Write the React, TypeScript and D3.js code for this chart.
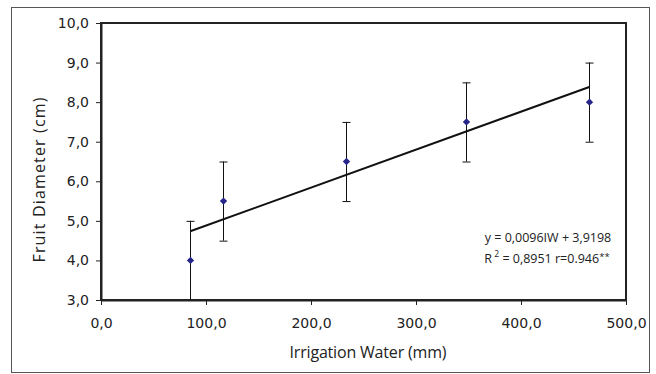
import React, { useEffect, useRef } from 'react';
import * as d3 from 'd3';

// irrigation water (mm) and mean fruit diameter (cm), error = ±1
const waterMm = [85, 116, 233, 348, 465];
const diameterCm = [4.0, 5.5, 6.5, 7.5, 8.0];
const errorCm = [1.0, 1.0, 1.0, 1.0, 1.0];
const xTicks = [0, 100, 200, 300, 400, 500];
const yTicks = [3, 4, 5, 6, 7, 8, 9, 10];
const slope = 0.0096;
const intercept = 3.9198;

const W = 656, H = 374;
const margin = { left: 101, right: 30, top: 23, bottom: 74 };

const fmt = (v: number) => v.toFixed(1).replace('.', ',');

const App = () => {
  const ref = useRef<SVGSVGElement | null>(null);

  useEffect(() => {
    const svg = d3.select(ref.current);
    svg.selectAll('*').remove();

    const x = d3.scaleLinear().domain([0, 500]).range([margin.left, W - margin.right]);
    const y = d3.scaleLinear().domain([3, 10]).range([H - margin.bottom, margin.top]);

    // outer frame
    svg.append('rect')
      .attr('x', 11.5).attr('y', 7.5).attr('width', 638).attr('height', 365)
      .attr('fill', 'white').attr('stroke', '#555').attr('stroke-width', 1);

    // plot area border
    svg.append('rect')
      .attr('x', x(0)).attr('y', y(10))
      .attr('width', x(500) - x(0)).attr('height', y(3) - y(10))
      .attr('fill', 'none').attr('stroke', '#222').attr('stroke-width', 2);

    // y axis
    const yAxis = svg.append('g')
      .attr('transform', `translate(${x(0)},0)`)
      .call(d3.axisLeft(y).tickValues(yTicks).tickSize(5).tickSizeOuter(0).tickFormat((d) => fmt(+d)));
    yAxis.select('.domain').attr('stroke', '#222').attr('stroke-width', 2);
    yAxis.selectAll('.tick line').attr('stroke', '#222');
    yAxis.selectAll('.tick text')
      .attr('x', -12)
      .attr('font-family', 'DejaVu Sans').attr('font-size', 14).attr('fill', '#222');

    // x axis
    const xAxis = svg.append('g')
      .attr('transform', `translate(0,${y(3)})`)
      .call(d3.axisBottom(x).tickValues(xTicks).tickSize(5).tickSizeOuter(0).tickFormat((d) => fmt(+d)));
    xAxis.select('.domain').attr('stroke', '#222').attr('stroke-width', 2);
    xAxis.selectAll('.tick line').attr('stroke', '#222');
    xAxis.selectAll('.tick text')
      .attr('y', 18)
      .attr('font-family', 'DejaVu Sans').attr('font-size', 14).attr('fill', '#222');

    // regression line
    const xMin = d3.min(waterMm) as number;
    const xMax = d3.max(waterMm) as number;
    svg.append('line')
      .attr('x1', x(xMin)).attr('y1', y(slope * xMin + intercept))
      .attr('x2', x(xMax)).attr('y2', y(slope * xMax + intercept))
      .attr('stroke', '#111').attr('stroke-width', 2);

    // error bars
    const eb = svg.append('g').attr('stroke', '#111').attr('stroke-width', 1);
    waterMm.forEach((w, i) => {
      const cx = Math.round(x(w)) + 0.5;
      const lo = Math.max(3, diameterCm[i] - errorCm[i]);
      const hi = diameterCm[i] + errorCm[i];
      eb.append('line').attr('x1', cx).attr('x2', cx).attr('y1', y(lo)).attr('y2', y(hi));
      eb.append('line').attr('x1', cx - 4).attr('x2', cx + 4).attr('y1', y(hi) + 0.5).attr('y2', y(hi) + 0.5);
      if (diameterCm[i] - errorCm[i] > 3) {
        eb.append('line').attr('x1', cx - 4).attr('x2', cx + 4).attr('y1', y(lo) + 0.5).attr('y2', y(lo) + 0.5);
      }
    });

    // diamond markers
    const diamond = d3.symbol().type(d3.symbolDiamond2).size(34);
    svg.append('g').selectAll('path')
      .data(waterMm)
      .enter().append('path')
      .attr('d', diamond)
      .attr('transform', (d, i) => `translate(${Math.round(x(d)) + 0.5},${y(diameterCm[i])})`)
      .attr('fill', '#25258a');

    // equation
    const eq = svg.append('g').attr('font-family', 'Open Sans').attr('font-size', 12.5).attr('fill', '#222');
    eq.append('text').attr('x', 548).attr('y', 242).attr('text-anchor', 'middle')
      .text('y = 0,0096IW + 3,9198');
    const r2 = eq.append('text').attr('x', 547).attr('y', 263).attr('text-anchor', 'middle');
    r2.append('tspan').text('R');
    r2.append('tspan').attr('dy', -6).attr('font-size', 8.5).text(' 2');
    r2.append('tspan').attr('dy', 6).text(' = 0,8951 r=0.946');
    r2.append('tspan').attr('dy', -3).attr('font-size', 9.5).text('**');

    // axis titles
    svg.append('text')
      .attr('x', 368).attr('y', 358).attr('text-anchor', 'middle')
      .attr('font-family', 'Open Sans').attr('font-size', 16).attr('fill', '#222')
      .attr('textLength', 157).attr('lengthAdjust', 'spacing')
      .text('Irrigation Water (mm)');
    svg.append('text')
      .attr('transform', 'translate(45,180) rotate(-90)')
      .attr('text-anchor', 'middle')
      .attr('font-family', 'Open Sans').attr('font-size', 16).attr('fill', '#222')
      .attr('textLength', 165).attr('lengthAdjust', 'spacing')
      .text('Fruit Diameter (cm)');
  }, []);

  return <svg ref={ref} width={W} height={H} style={{ display: 'block', position: 'absolute', left: 0, top: 0 }} />;
};

export default App;
